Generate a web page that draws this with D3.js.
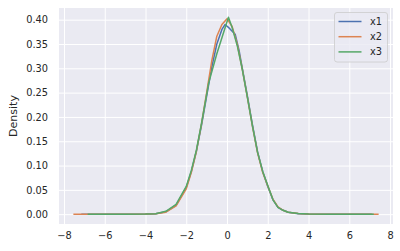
<!DOCTYPE html>
<html>
<head>
<meta charset="utf-8">
<script src="https://cdn.jsdelivr.net/npm/d3@7"></script>
<style>
  body { margin: 0; background: #fff; }
  svg { display: block; font-family: "DejaVu Sans", sans-serif; }
</style>
</head>
<body>
<div id="chart"></div>
<script>
// series (density estimates)
var x1X = [-7.15, -6, -5, -4, -3.5, -3, -2.5, -2, -1.75, -1.5, -1.25, -1, -0.75, -0.5, -0.25, -0.1, 0.1, 0.4, 0.6, 0.75, 1, 1.25, 1.5, 1.75, 2, 2.25, 2.5, 2.75, 3, 3.5, 4, 5, 6, 7.1]
var x1Y = [0, 0, 0, 0.0002, 0.001, 0.005, 0.018, 0.055, 0.088, 0.13, 0.183, 0.243, 0.302, 0.35, 0.38, 0.39, 0.383, 0.37, 0.335, 0.3, 0.243, 0.183, 0.128, 0.088, 0.057, 0.03, 0.014, 0.008, 0.004, 0.001, 0.0002, 0, 0, 0]

var x2X = [-7.54, -6, -5, -4, -3.5, -3, -2.5, -2, -1.75, -1.5, -1.25, -1, -0.75, -0.5, -0.25, 0, 0.25, 0.5, 0.75, 1, 1.25, 1.5, 1.75, 2, 2.25, 2.5, 2.75, 3, 3.5, 4, 5, 6, 7.44]
var x2Y = [0, 0, 0, 0.0002, 0.0008, 0.004, 0.017, 0.052, 0.086, 0.13, 0.186, 0.25, 0.315, 0.366, 0.39, 0.402, 0.386, 0.35, 0.298, 0.24, 0.18, 0.126, 0.086, 0.058, 0.031, 0.015, 0.008, 0.004, 0.0012, 0.0003, 0, 0, 0]

var x3X = [-6.84, -6, -5, -4, -3.5, -3, -2.5, -2, -1.75, -1.5, -1.25, -0.9, -0.5, 0.07, 0.25, 0.5, 0.75, 1, 1.25, 1.5, 1.75, 2, 2.25, 2.5, 2.75, 3, 3.5, 4, 5, 6, 7.2]
var x3Y = [0, 0, 0, 0.0002, 0.001, 0.006, 0.02, 0.057, 0.09, 0.132, 0.187, 0.27, 0.33, 0.405, 0.384, 0.347, 0.298, 0.24, 0.181, 0.127, 0.088, 0.059, 0.03, 0.014, 0.008, 0.004, 0.0012, 0.0003, 0, 0, 0]

var names = ['x1', 'x2', 'x3']
var colors = ['#4C72B0', '#DD8452', '#55A868']
var xTicks = [-8, -6, -4, -2, 0, 2, 4, 6, 8]
var yTicks = [0, 0.05, 0.10, 0.15, 0.20, 0.25, 0.30, 0.35, 0.40]

var svgW = 400, svgH = 251
var margins = {left: 59, right: 7, top: 8, bottom: 27}
var chartW = svgW - margins.left - margins.right
var chartH = svgH - margins.top - margins.bottom

var svg = d3.select('#chart').append('svg')
    .attr('width', svgW)
    .attr('height', svgH)

var chart = svg.append('g')
    .attr('transform', `translate(${margins.left},${margins.top})`)

var xscale = d3.scaleLinear().domain([-8.245, 8.145]).range([0, chartW])
var yscale = d3.scaleLinear().domain([-0.0202, 0.424]).range([chartH, 0])

chart.append('rect')
    .attr('width', chartW)
    .attr('height', chartH)
    .attr('fill', '#EAEAF2')

// grid
chart.append('g')
    .attr('transform', `translate(0,${chartH})`)
    .call(d3.axisBottom(xscale).tickValues(xTicks).tickSize(-chartH).tickFormat(''))
    .call(g => g.select('.domain').remove())
    .call(g => g.selectAll('line').attr('stroke', '#fff').attr('stroke-width', 1))
chart.append('g')
    .call(d3.axisLeft(yscale).tickValues(yTicks).tickSize(-chartW).tickFormat(''))
    .call(g => g.select('.domain').remove())
    .call(g => g.selectAll('line').attr('stroke', '#fff').attr('stroke-width', 1))

// tick labels
var xaxis = chart.append('g')
    .attr('transform', `translate(0,${chartH})`)
    .call(d3.axisBottom(xscale).tickValues(xTicks).tickSize(0).tickPadding(8)
        .tickFormat(d => d < 0 ? '\u2212' + Math.abs(d) : d))
xaxis.select('.domain').remove()
xaxis.selectAll('text').attr('font-size', '9.8px').attr('fill', '#262626')
    .attr('font-family', '"DejaVu Sans", sans-serif')

var yaxis = chart.append('g')
    .call(d3.axisLeft(yscale).tickValues(yTicks).tickSize(0).tickPadding(11)
        .tickFormat(d3.format('.2f')))
yaxis.select('.domain').remove()
yaxis.selectAll('text').attr('font-size', '9.8px').attr('fill', '#262626')
    .attr('font-family', '"DejaVu Sans", sans-serif')

svg.append('text')
    .attr('transform', `translate(17,${margins.top + chartH / 2}) rotate(-90)`)
    .attr('text-anchor', 'middle')
    .attr('font-size', '11px')
    .attr('fill', '#262626')
    .text('Density')

// lines
var line = d3.line().x(d => xscale(d[0])).y(d => yscale(d[1]))
var series = [d3.zip(x1X, x1Y), d3.zip(x2X, x2Y), d3.zip(x3X, x3Y)]
series.forEach(function(s, i) {
    chart.append('path')
        .datum(s)
        .attr('d', line)
        .attr('fill', 'none')
        .attr('stroke', colors[i])
        .attr('stroke-width', 1.5)
        .attr('stroke-linejoin', 'round')
})

// legend
var legend = svg.append('g').attr('transform', 'translate(334.5,12.5)')
legend.append('rect')
    .attr('width', 53)
    .attr('height', 49.5)
    .attr('rx', 2.5)
    .attr('fill', '#EAEAF2')
    .attr('fill-opacity', 0.8)
    .attr('stroke', '#cccccc')
    .attr('stroke-width', 0.8)
names.forEach(function(n, i) {
    var yy = 9 + i * 15.2
    legend.append('line')
        .attr('x1', 4).attr('x2', 27)
        .attr('y1', yy).attr('y2', yy)
        .attr('stroke', colors[i])
        .attr('stroke-width', 1.5)
    legend.append('text')
        .attr('x', 35.5).attr('y', yy)
        .attr('dy', '0.35em')
        .attr('font-size', '9.8px')
        .attr('fill', '#262626')
        .text(n)
})
</script>
</body>
</html>
